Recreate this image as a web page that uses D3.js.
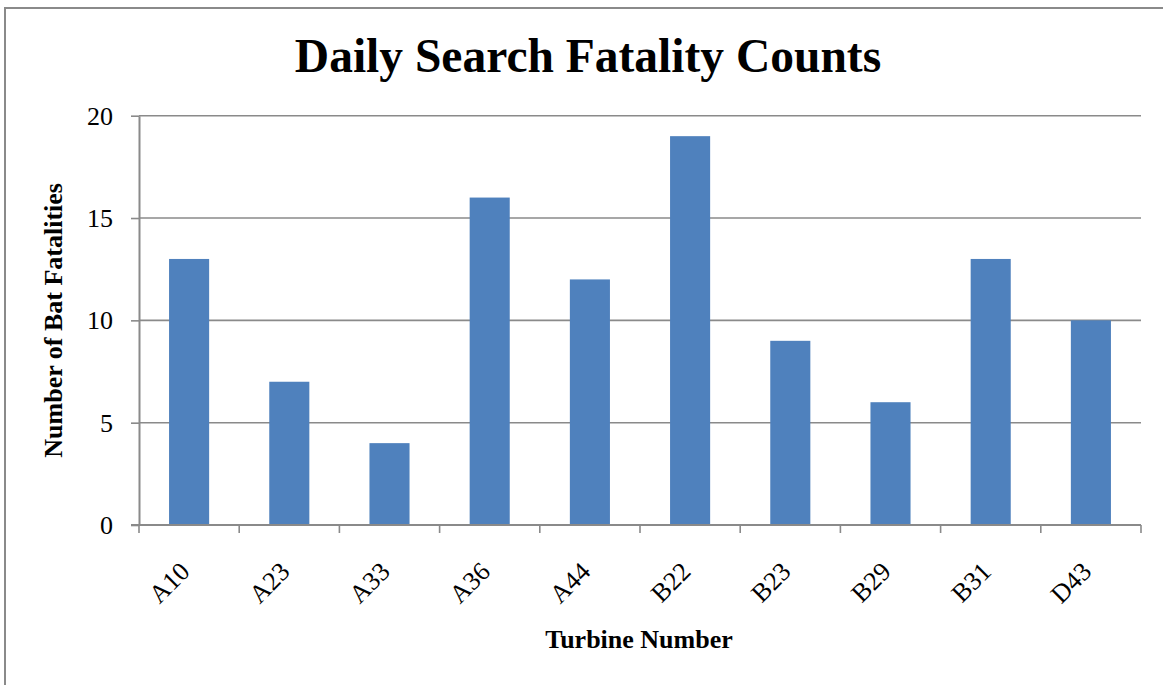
<!DOCTYPE html>
<html>
<head>
<meta charset="utf-8">
<script src="https://cdn.jsdelivr.net/npm/d3@7.9.0/dist/d3.min.js"></script>
<style>
  body { margin: 0; background: #fff; }
  svg { display: block; font-family: "Liberation Serif", "Times New Roman", serif; }
</style>
</head>
<body>
<svg id="chart" width="1163" height="685"></svg>
<script>
const turbines = ['A10', 'A23', 'A33', 'A36', 'A44', 'B22', 'B23', 'B29', 'B31', 'D43'];
const fatalities = [13, 7, 4, 16, 12, 19, 9, 6, 13, 10];
const yTicks = [0, 5, 10, 15, 20];

const svg = d3.select('#chart');
const plot = { left: 139, right: 1141, top: 115.7, bottom: 525 };
const gridColor = '#8a8a8a';

// outer chart border (cut off at right and bottom)
svg.append('path')
  .attr('d', 'M5,686 L5,8 L1164,8')
  .attr('fill', 'none')
  .attr('stroke', gridColor)
  .attr('stroke-width', 2);

const x = d3.scaleBand().domain(turbines).range([plot.left, plot.right]).padding(0);
const y = d3.scaleLinear().domain([0, 20]).range([plot.bottom, plot.top]);

// gridlines
svg.append('g')
  .selectAll('line')
  .data(yTicks.filter((d) => d > 0))
  .join('line')
  .attr('x1', plot.left)
  .attr('x2', plot.right)
  .attr('y1', (d) => y(d))
  .attr('y2', (d) => y(d))
  .attr('stroke', gridColor)
  .attr('stroke-width', 1.6);

// bars, gap width 150%
const barW = x.bandwidth() / 2.5;
svg.append('g')
  .selectAll('rect')
  .data(turbines)
  .join('rect')
  .attr('x', (d) => x(d) + (x.bandwidth() - barW) / 2)
  .attr('y', (d, i) => y(fatalities[i]))
  .attr('width', barW)
  .attr('height', (d, i) => y(0) - y(fatalities[i]))
  .attr('fill', '#4f81bd');

// y axis
const yAxis = svg.append('g')
  .attr('transform', `translate(${plot.left},0)`)
  .call(d3.axisLeft(y).tickValues(yTicks).tickSize(8).tickSizeOuter(0).tickPadding(18));
yAxis.select('.domain').attr('stroke', gridColor).attr('stroke-width', 2);
yAxis.selectAll('.tick line').attr('stroke', gridColor).attr('stroke-width', 1.6);
yAxis.selectAll('.tick text')
  .attr('font-family', '"Liberation Serif", "Times New Roman", serif')
  .attr('font-size', 26)
  .attr('fill', '#000');

// x axis line and boundary ticks
svg.append('line')
  .attr('x1', plot.left - 8)
  .attr('x2', plot.right)
  .attr('y1', plot.bottom)
  .attr('y2', plot.bottom)
  .attr('stroke', gridColor)
  .attr('stroke-width', 2);

const bounds = turbines.map((d) => x(d)).concat([x(turbines[turbines.length - 1]) + x.bandwidth()]);
svg.append('g')
  .selectAll('line')
  .data(bounds)
  .join('line')
  .attr('x1', (d) => d)
  .attr('x2', (d) => d)
  .attr('y1', plot.bottom)
  .attr('y2', plot.bottom + 8)
  .attr('stroke', gridColor)
  .attr('stroke-width', 1.6);

// category labels, rotated
svg.append('g')
  .selectAll('text')
  .data(turbines)
  .join('text')
  .attr('transform', (d) => `translate(${x(d) + x.bandwidth() / 2 + 2},${plot.bottom + 48}) rotate(-45)`)
  .attr('text-anchor', 'end')
  .attr('font-size', 26)
  .text((d) => d);

// titles
svg.append('text')
  .attr('x', 588)
  .attr('y', 72)
  .attr('text-anchor', 'middle')
  .attr('font-size', 47.5)
  .attr('font-weight', 'bold')
  .text('Daily Search Fatality Counts');

svg.append('text')
  .attr('transform', `translate(62,${(plot.top + plot.bottom) / 2}) rotate(-90)`)
  .attr('text-anchor', 'middle')
  .attr('font-size', 26)
  .attr('font-weight', 'bold')
  .text('Number of Bat Fatalities');

svg.append('text')
  .attr('x', (plot.left + plot.right) / 2 - 1)
  .attr('y', 648)
  .attr('text-anchor', 'middle')
  .attr('font-size', 26)
  .attr('font-weight', 'bold')
  .text('Turbine Number');
</script>
</body>
</html>
